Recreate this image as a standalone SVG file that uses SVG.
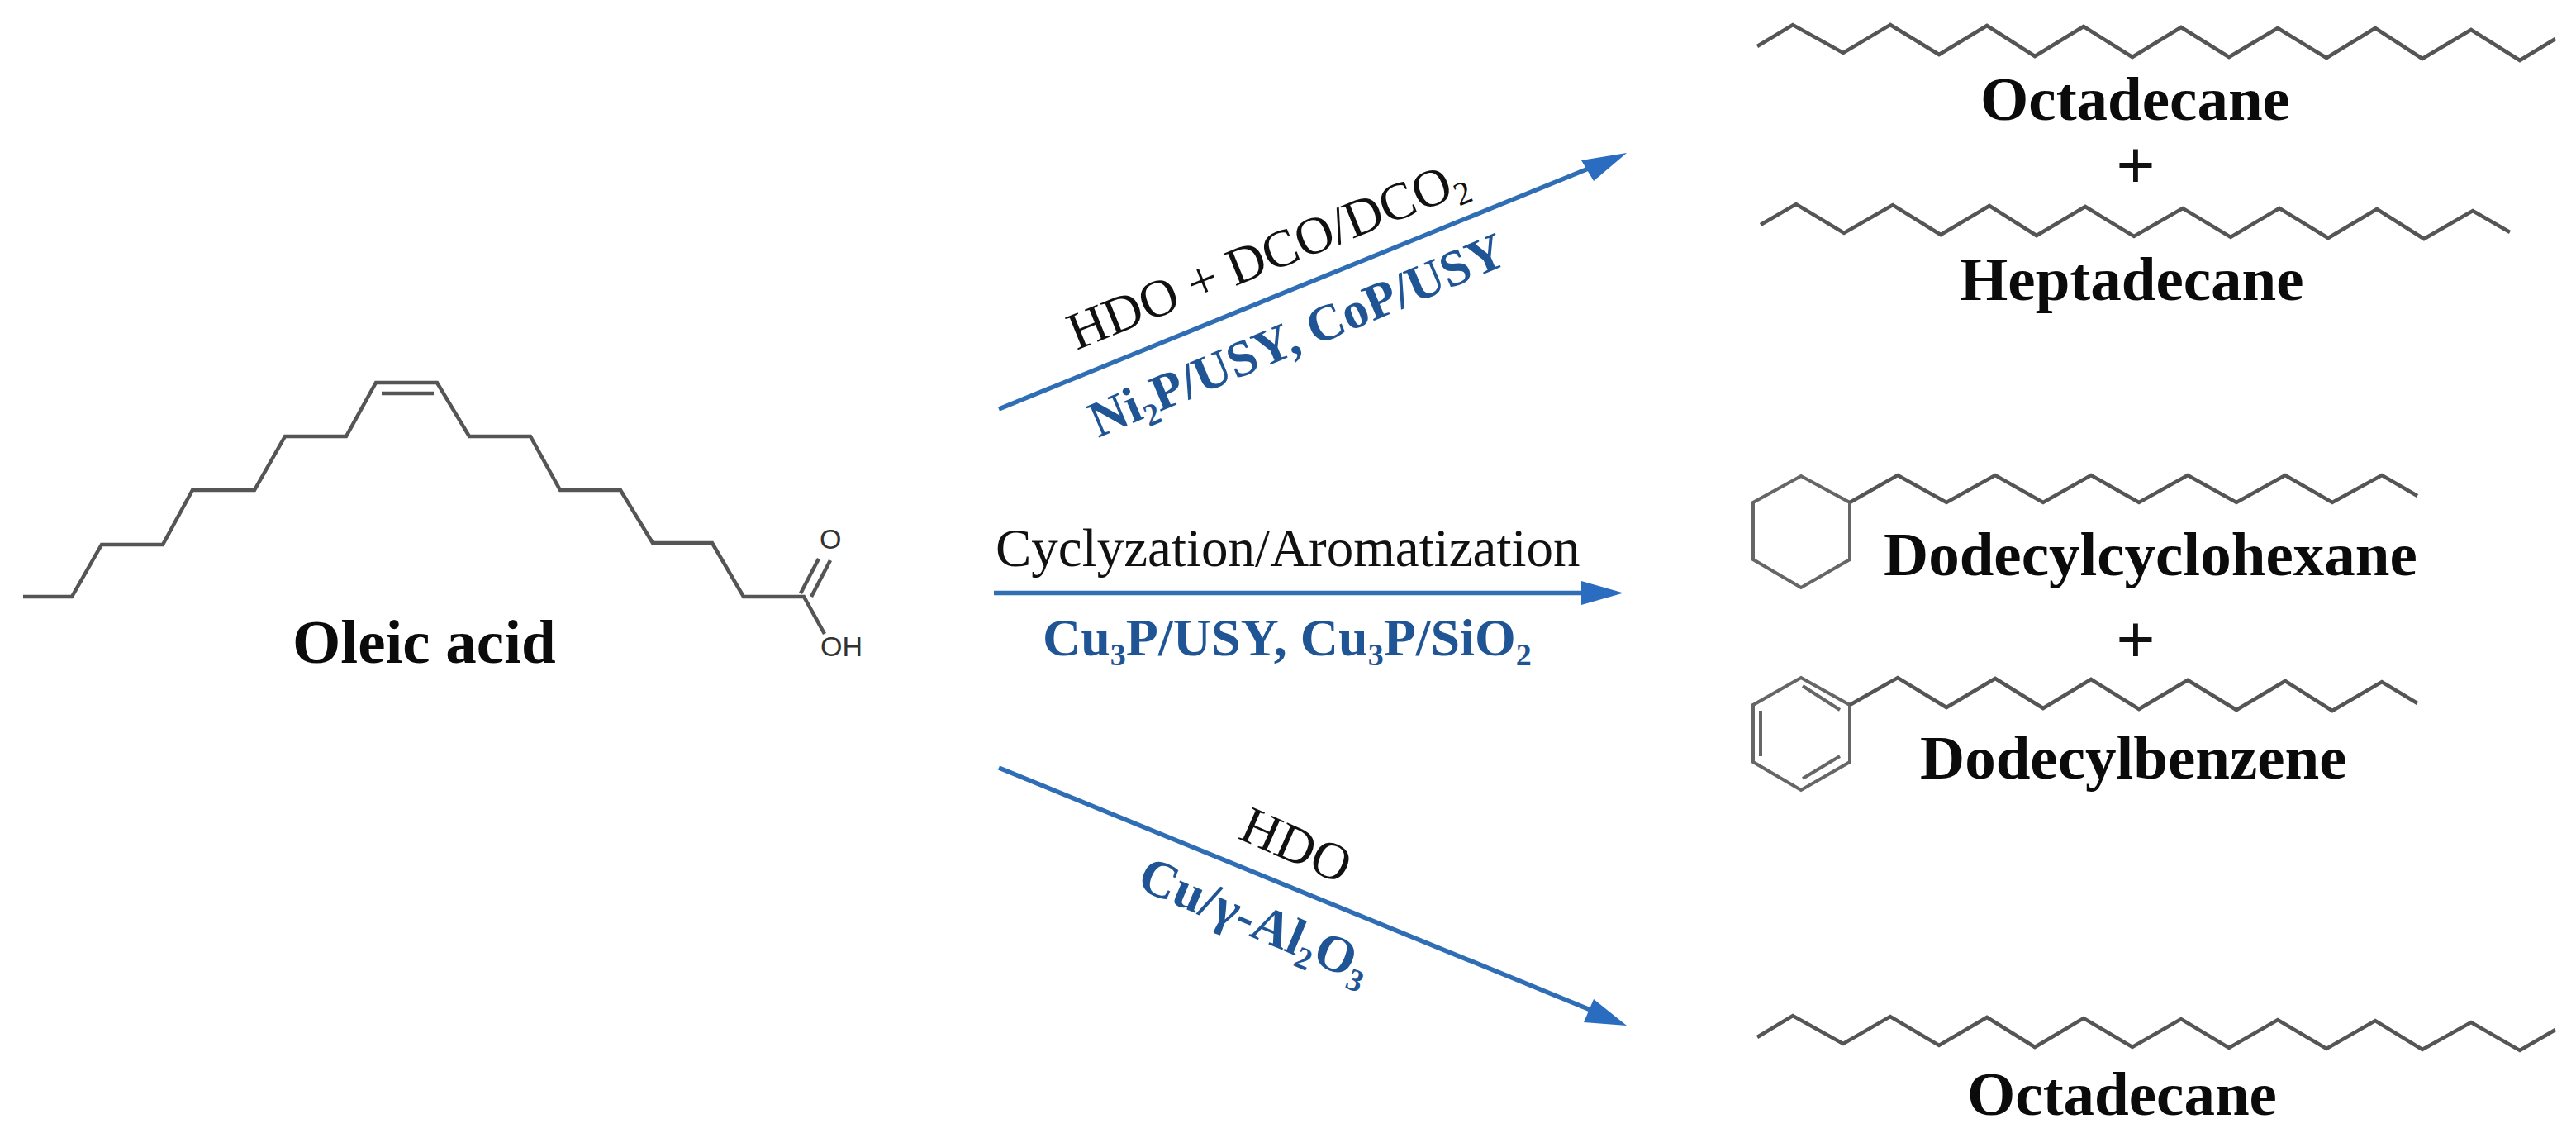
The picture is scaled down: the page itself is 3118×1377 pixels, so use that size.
<svg xmlns="http://www.w3.org/2000/svg" width="3118" height="1377" viewBox="0 0 3118 1377">
<defs>
<style>
text{font-family:"Liberation Serif","Times New Roman",serif;}
.bond{fill:none;stroke:#555;stroke-width:4.5;stroke-linejoin:miter;stroke-linecap:butt;}
.ring{fill:none;stroke:#666;stroke-width:4;}
.name{font-size:75px;font-weight:bold;fill:#0b0b0b;}
.plus{font-size:84px;font-weight:bold;fill:#111;text-anchor:middle;}
.cond{font-size:65px;fill:#111;}
.cat{font-size:64px;font-weight:bold;fill:#1f5594;}
.atom{font-family:"Liberation Sans",Arial,sans-serif;font-size:34px;fill:#333;}
.arrow{fill:none;stroke:#2f6db5;stroke-width:5.500;}
.head{fill:#2a6cc0;}
</style>
</defs>
<rect width="3118" height="1377" fill="#fff"/>
<g id="connectors">
<line class="arrow" x1="1209" y1="495" x2="1925" y2="203"/>
<polygon class="head" points="1969,185 1914,194 1929,219"/>
<line class="arrow" x1="1203" y1="717.500" x2="1920" y2="717.500"/>
<polygon class="head" points="1965,717.500 1914,703 1914,732"/>
<line class="arrow" x1="1209" y1="929" x2="1925" y2="1222"/>
<polygon class="head" points="1969,1241 1929,1209 1917,1237"/>
</g>
<g id="oleic-acid">
<polyline class="bond" points="28,722 87,722 123,659 197,659 233,593 308,593 345,528 419,528 455,463 529,463 568,528 642,528 678,593 751,593 790,657 862,657 900,722 973,722 998,767"/>
<line class="bond" x1="462" y1="476" x2="525" y2="476"/>
<line class="bond" x1="969" y1="718" x2="991" y2="676"/>
<line class="bond" x1="982" y1="722" x2="1005" y2="678"/>
<text class="atom" x="992" y="664">O</text>
<text class="atom" x="993" y="794">OH</text>
<text class="name" x="354" y="802">Oleic acid</text>
</g>
<g id="label-hdo-dco">
<text class="cond" transform="translate(1303,424) rotate(-22)" style="font-size:64px">HDO + DCO/DCO<tspan dy="12" font-size="40">2</tspan></text>
</g>
<g id="label-ni2p">
<text class="cat" transform="translate(1329,530) rotate(-23)" style="font-size:62px">Ni<tspan dy="12" font-size="38">2</tspan><tspan dy="-12">P/USY, CoP/USY</tspan></text>
</g>
<g id="label-cyclyzation">
<text class="cond" x="1205" y="685">Cyclyzation/Aromatization</text>
</g>
<g id="label-cu3p">
<text class="cat" x="1262" y="793">Cu<tspan dy="12" font-size="38">3</tspan><tspan dy="-12">P/USY, Cu</tspan><tspan dy="12" font-size="38">3</tspan><tspan dy="-12">P/SiO</tspan><tspan dy="12" font-size="38">2</tspan></text>
</g>
<g id="label-hdo">
<text class="cond" transform="translate(1497,1014) rotate(24)" style="font-size:64px">HDO</text>
</g>
<g id="label-cu-al2o3">
<text class="cat" transform="translate(1374,1074) rotate(23)" style="font-size:63px">Cu/γ-Al<tspan dy="12" font-size="38">2</tspan><tspan dy="-12">O</tspan><tspan dy="12" font-size="38">3</tspan></text>
</g>
<g id="octadecane-top">
<polyline class="bond" points="2127,56 2170,30 2231,64 2288,30 2347,66 2405,31 2463,68 2522,32 2581,69 2640,33 2698,69 2757,34 2816,70 2875,34 2932,71 2991,36 3050,73 3093,47"/>
<text class="name" x="2397" y="145">Octadecane</text>
</g>
<g id="plus-top"><text class="plus" x="2585" y="228">+</text></g>
<g id="heptadecane">
<polyline class="bond" points="2131,272 2174,247 2232,282 2291,248 2349,284 2408,249 2465,285 2524,250 2583,286 2642,252 2700,287 2759,252 2818,288 2877,253 2934,289 2993,255 3038,281"/>
<text class="name" x="2372" y="363">Heptadecane</text>
</g>
<g id="dodecylcyclohexane">
<polygon class="ring" points="2180,576 2239,608 2239,677 2180,711 2122,677 2122,608"/>
<polyline class="bond" points="2239,608 2297,575 2356,608 2415,575 2473,608 2531,575 2589,608 2648,575 2707,608 2766,575 2823,608 2883,575 2926,600"/>
<text class="name" x="2280" y="696">Dodecylcyclohexane</text>
</g>
<g id="plus-middle"><text class="plus" x="2585" y="802">+</text></g>
<g id="dodecylbenzene">
<polygon class="ring" points="2180,820 2239,853 2239,922 2180,956 2122,922 2122,853"/>
<line class="ring" x1="2182" y1="830" x2="2227" y2="859"/>
<line class="ring" x1="2131" y1="860" x2="2131" y2="915"/>
<line class="ring" x1="2227" y1="915" x2="2182" y2="942"/>
<polyline class="bond" points="2239,853 2297,820 2356,856 2415,821 2473,857 2531,822 2589,858 2648,823 2707,859 2766,824 2823,860 2883,825 2926,851"/>
<text class="name" x="2324" y="942">Dodecylbenzene</text>
</g>
<g id="octadecane-bottom">
<polyline class="bond" points="2127,1255 2170,1229 2231,1263 2288,1230 2347,1265 2405,1231 2463,1267 2522,1232 2581,1267 2640,1233 2698,1268 2757,1234 2816,1269 2875,1235 2932,1270 2991,1237 3050,1271 3093,1246"/>
<text class="name" x="2381" y="1349">Octadecane</text>
</g>
</svg>
